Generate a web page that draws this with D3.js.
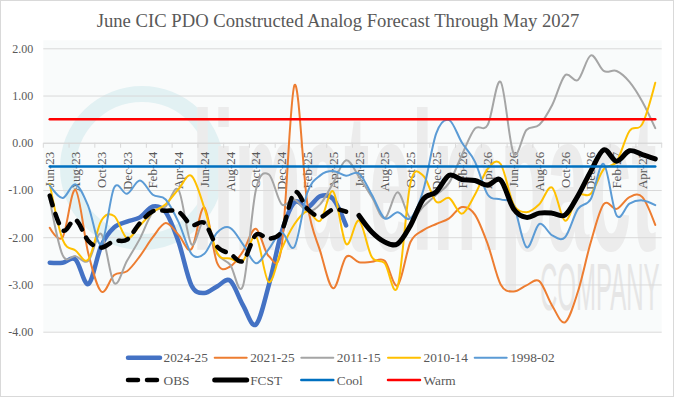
<!DOCTYPE html>
<html>
<head>
<meta charset="utf-8">
<script src="https://cdn.jsdelivr.net/npm/d3@7"></script>
<style>
  html, body { margin: 0; padding: 0; background: #fff; }
  svg text { font-family: "Liberation Serif", "Times New Roman", serif; }
</style>
</head>
<body>
<svg id="chart" width="676" height="398"></svg>
<script>
const months = ["Jun-23","Jul-23","Aug-23","Sep-23","Oct-23","Nov-23","Dec-23","Jan-24","Feb-24","Mar-24","Apr-24","May-24",
  "Jun-24","Jul-24","Aug-24","Sep-24","Oct-24","Nov-24","Dec-24","Jan-25","Feb-25","Mar-25","Apr-25","May-25",
  "Jun-25","Jul-25","Aug-25","Sep-25","Oct-25","Nov-25","Dec-25","Jan-26","Feb-26","Mar-26","Apr-26","May-26",
  "Jun-26","Jul-26","Aug-26","Sep-26","Oct-26","Nov-26","Dec-26","Jan-27","Feb-27","Mar-27","Apr-27","May-27"];
const tickLabels = ["Jun-23","Aug-23","Oct-23","Dec-23","Feb-24","Apr-24","Jun-24","Aug-24","Oct-24","Dec-24","Feb-25","Apr-25",
  "Jun-25","Aug-25","Oct-25","Dec-25","Feb-26","Apr-26","Jun-26","Aug-26","Oct-26","Dec-26","Feb-27","Apr-27"];
const yTicks = [2, 1, 0, -1, -2, -3, -4];

const s2024 = [-2.54,-2.54,-2.47,-2.99,-2.18,-1.79,-1.67,-1.58,-1.35,-1.47,-2.10,-3.02,
  -3.18,-3.04,-2.92,-3.44,-3.85,-3.02,-1.89,-1.26,-1.37,-1.13,-1.19,-1.75];
const s2021 = [-1.80,-2.00,-1.00,-2.35,-3.15,-2.80,-2.72,-2.40,-2.00,-1.70,-1.95,-2.25,
  -1.37,-2.55,-2.62,-2.30,-1.82,-2.40,-2.20,1.22,-1.30,-2.30,-3.08,-2.42,
  -2.53,-2.52,-2.50,-3.02,-2.10,-1.85,-1.72,-1.60,-1.36,-1.52,-2.15,-3.00,
  -3.15,-3.02,-2.93,-3.45,-3.80,-3.15,-2.10,-1.30,-1.40,-1.15,-1.15,-1.74];
const s2011 = [-1.20,-2.38,-2.40,-2.50,-1.93,-2.97,-2.50,-2.03,-1.47,-1.35,-1.00,-2.15,
  -1.65,-2.35,-2.58,-3.03,-1.00,-0.67,-1.30,-1.20,-1.45,-1.30,-0.85,-0.37,
  -0.72,-1.15,-1.60,-1.05,-1.60,-1.35,-1.10,-0.85,-0.25,0.30,0.38,1.29,
  -0.22,0.27,0.38,0.80,1.43,1.33,1.85,1.52,1.52,1.29,0.87,0.31];
const s2010 = [-0.87,-2.05,-2.28,-2.47,-1.65,-1.55,-2.02,-1.75,-1.47,-1.30,-0.98,-0.70,
  -1.38,-2.33,-2.45,-2.50,-1.98,-2.95,-2.25,-1.72,-1.45,-1.65,-1.03,-2.14,
  -1.65,-2.42,-2.55,-3.05,-0.85,-0.70,-1.25,-1.17,-1.50,-1.10,-0.55,-0.45,
  -1.30,-1.47,-1.30,-0.95,-1.65,-1.12,-1.08,-0.56,-0.40,0.25,0.40,1.27];
const s1998 = [-0.90,-1.17,-0.88,-1.35,-2.15,-0.95,-1.08,-0.80,-1.10,-1.20,-1.68,-2.35,
  -2.35,-1.90,-1.80,-2.15,-2.55,-2.25,-1.90,-2.20,-1.05,-0.69,-0.60,-0.70,
  -0.65,-1.10,-1.60,-1.47,-1.60,-1.00,0.20,0.48,0.00,-0.40,-1.10,-1.20,
  -1.33,-2.21,-1.72,-1.96,-2.00,-1.40,-1.19,-0.45,-1.54,-1.29,-1.22,-1.32];
const obs = [-1.12,-1.85,-1.63,-2.08,-2.22,-2.08,-2.05,-1.70,-1.45,-1.44,-1.46,-1.74,
  -1.70,-2.20,-2.35,-2.50,-1.95,-2.03,-1.87,-1.05,-1.40,-1.57,-1.41,-1.46];
const fcst = [-1.54,-1.89,-2.10,-2.14,-1.75,-1.19,-1.04,-0.69,-0.78,-0.80,-0.90,-0.79,
  -1.40,-1.58,-1.49,-1.49,-1.53,-1.12,-0.60,-0.15,-0.39,-0.17,-0.25,-0.34];
const coolValue = -0.5;
const warmValue = 0.5;

const svg = d3.select("#chart");
const plot = { left: 43.3, right: 661.7, top: 48.3, bottom: 331.7 };

svg.append("rect").attr("x", 0.5).attr("y", 0.5).attr("width", 673).attr("height", 396)
  .attr("fill", "#fff").attr("stroke", "#d9d9d9");

const x = d3.scaleBand().domain(months).range([plot.left, plot.right]).padding(0);
const cx = m => x(m) + x.bandwidth() / 2;
const y = d3.scaleLinear().domain([-4, 2]).range([plot.bottom, plot.top]);

// plot background + faint watermark
svg.append("rect").attr("x", plot.left).attr("y", plot.top - 8).attr("width", plot.right - plot.left)
  .attr("height", plot.bottom - plot.top + 8).attr("fill", "#f9fbfb");
const wm = svg.append("g").attr("pointer-events", "none");
wm.append("circle").attr("cx", 142).attr("cy", 168).attr("r", 74).attr("fill", "none")
  .attr("stroke", "#e2f1f3").attr("stroke-width", 16);
wm.append("text").attr("transform", "translate(192,250) scale(1,2.6)")
  .attr("font-size", 76).attr("fill", "#ececec")
  .style("font-family", "'Liberation Sans', Arial, sans-serif").style("font-weight", "bold")
  .text("limatelmpact");
wm.append("text").attr("transform", "translate(540,310) scale(1,2.8)")
  .attr("font-size", 24).attr("fill", "#e6e6e6")
  .style("font-family", "'Liberation Sans', Arial, sans-serif")
  .text("COMPANY");

// gridlines + y labels
const yAxis = d3.axisLeft(y).tickValues(yTicks).tickSize(-(plot.right - plot.left)).tickPadding(10)
  .tickFormat(d => d.toFixed(2));
const gy = svg.append("g").attr("transform", `translate(${plot.left},0)`).call(yAxis);
gy.select(".domain").remove();
gy.selectAll(".tick line").attr("stroke", "#d9d9d9").attr("stroke-width", 1);
gy.selectAll(".tick text").attr("fill", "#595959").attr("font-size", 12)
  .style("font-family", "'Liberation Serif', 'Times New Roman', serif");

// x axis at y=0
const y0 = y(0);
const xAxis = d3.axisBottom(x).tickValues(tickLabels).tickSize(0).tickPadding(0);
const gx = svg.append("g").attr("transform", `translate(0,${y0})`).call(xAxis);
gx.select(".domain").attr("stroke", "#d9d9d9");
gx.selectAll(".tick text").attr("fill", "#595959").attr("font-size", 13)
  .style("font-family", "'Liberation Serif', 'Times New Roman', serif")
  .attr("transform", "rotate(-90)").attr("text-anchor", "end")
  .attr("x", -9).attr("y", 0).attr("dy", "0.35em");
const tickPos = months.filter((m, i) => i % 2 === 0).map(m => x(m)).concat([plot.right]);
gx.selectAll(".btick").data(tickPos).enter().append("line").attr("class", "btick")
  .attr("x1", d => d).attr("x2", d => d).attr("y1", 0).attr("y2", 5).attr("stroke", "#d9d9d9");

// series
const line = d3.line().x(d => cx(d.m)).y(d => y(d.v)).curve(d3.curveCardinal.tension(0));
const toPts = (arr, offset) => arr.map((v, i) => ({ m: months[i + offset], v }));
const series = [
  { name: "2024-25", data: toPts(s2024, 0), color: "#4472C4", w: 4.5 },
  { name: "2021-25", data: toPts(s2021, 0), color: "#ED7D31", w: 2 },
  { name: "2011-15", data: toPts(s2011, 0), color: "#A5A5A5", w: 2 },
  { name: "2010-14", data: toPts(s2010, 0), color: "#FFC000", w: 2 },
  { name: "1998-02", data: toPts(s1998, 0), color: "#5B9BD5", w: 2 },
  { name: "OBS", data: toPts(obs, 0), color: "#000000", w: 4.5, dash: "10,9" },
  { name: "FCST", data: toPts(fcst, 24), color: "#000000", w: 5 },
  { name: "Cool", data: months.map(m => ({ m, v: coolValue })), color: "#0070C0", w: 2.5 },
  { name: "Warm", data: months.map(m => ({ m, v: warmValue })), color: "#FF0000", w: 2.5 }
];
series.forEach(s => {
  svg.append("path").datum(s.data).attr("d", line).attr("fill", "none")
    .attr("stroke", s.color).attr("stroke-width", s.w)
    .attr("stroke-linecap", "round").attr("stroke-linejoin", "round")
    .attr("stroke-dasharray", s.dash || null);
});

// title
svg.append("text").attr("x", 338).attr("y", 27).attr("text-anchor", "middle")
  .attr("font-size", 18.67).attr("fill", "#595959")
  .text("June CIC PDO Constructed Analog Forecast Through May 2027");

// legend
const legX = [126, 212.7, 299.3, 386, 472.7];
const legRows = [357.7, 380];
const lg = svg.append("g");
series.forEach((s, i) => {
  const r = i < 5 ? 0 : 1;
  const c = i < 5 ? i : i - 5;
  const lx = legX[c], ly = legRows[r];
  lg.append("line").attr("x1", lx + 2).attr("x2", lx + 34).attr("y1", ly).attr("y2", ly)
    .attr("stroke", s.color).attr("stroke-width", s.w).attr("stroke-linecap", "round")
    .attr("stroke-dasharray", s.dash ? "10,9" : null);
  lg.append("text").attr("x", lx + 37.5).attr("y", ly).attr("dy", "0.35em")
    .attr("font-size", 13.33).attr("fill", "#595959").text(s.name);
});
</script>
</body>
</html>
